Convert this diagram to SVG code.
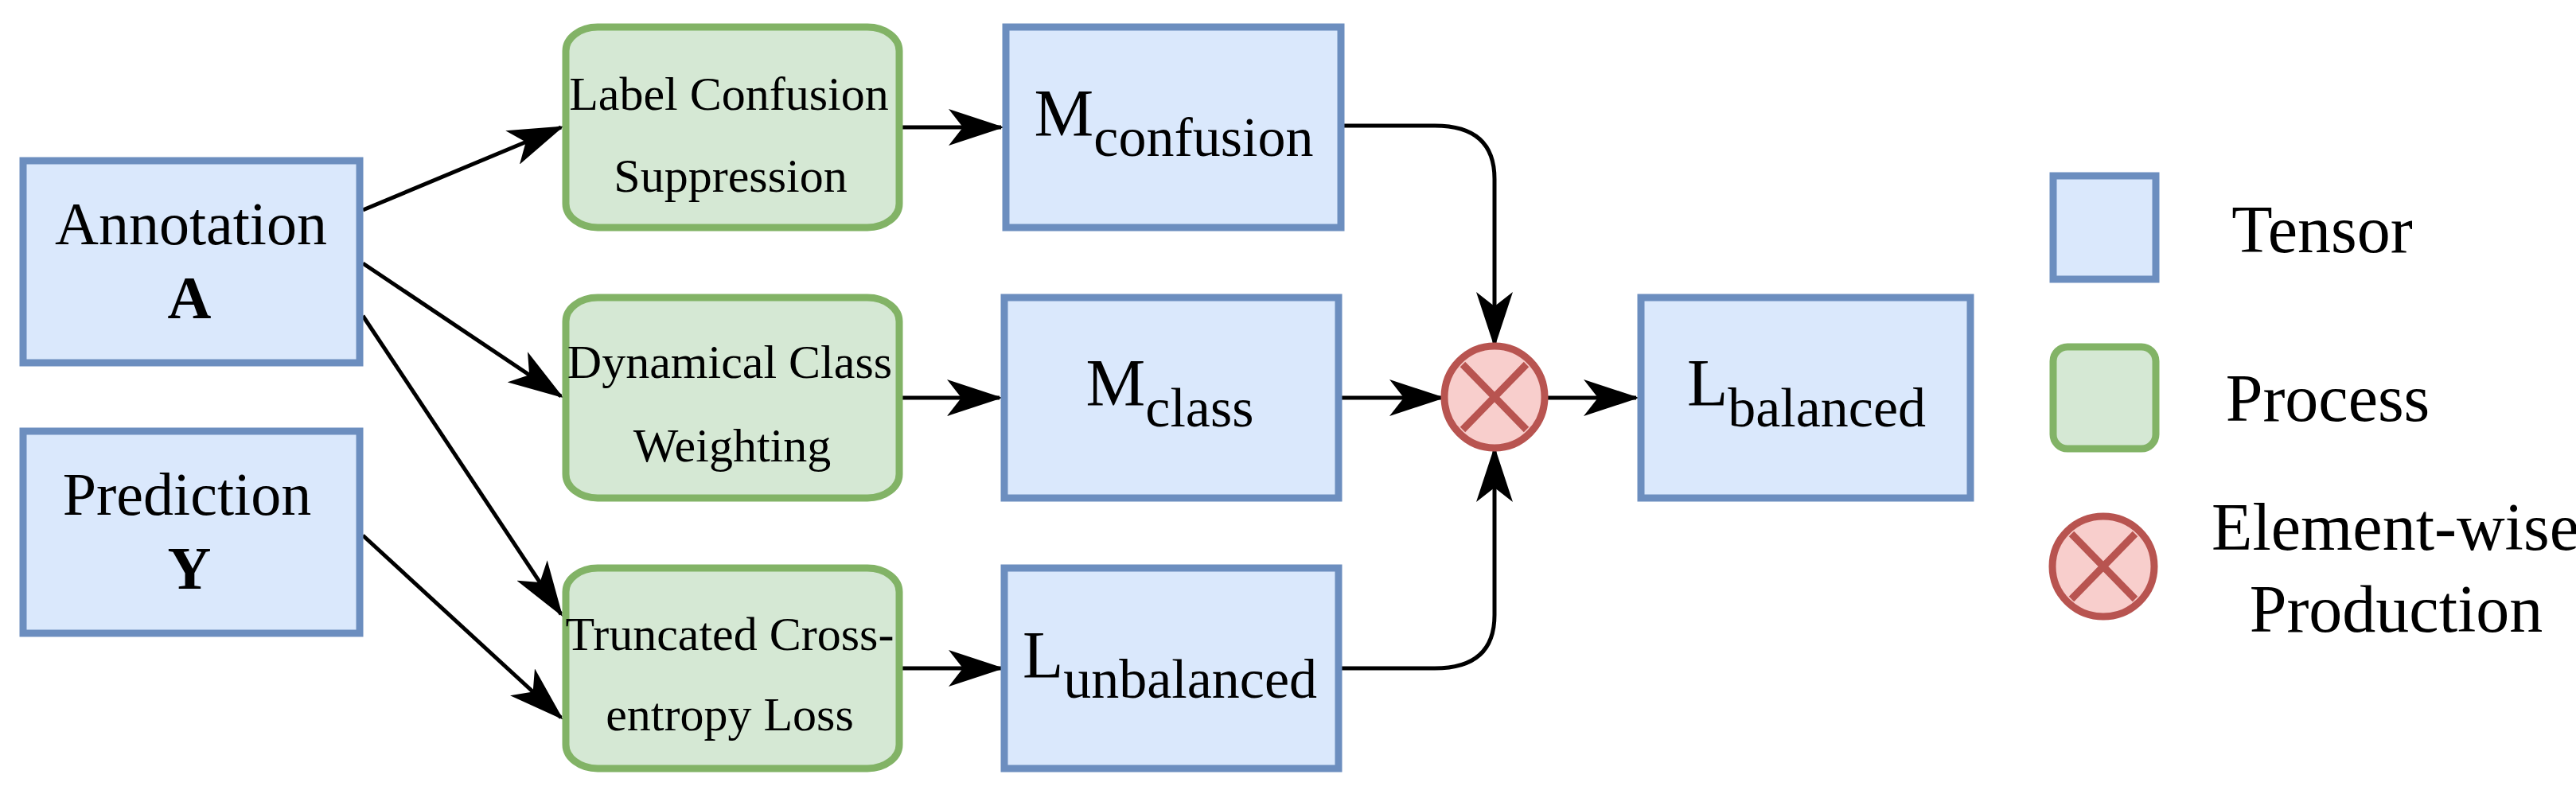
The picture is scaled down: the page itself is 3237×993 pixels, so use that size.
<svg xmlns="http://www.w3.org/2000/svg" width="3237" height="993" viewBox="0 0 3237 993">
<style>
.t{fill:#dae8fc;stroke:#6c8ebf;stroke-width:9}
.p{fill:#d5e8d4;stroke:#82b366;stroke-width:9}
.o{fill:#f8cecc;stroke:#b85450;stroke-width:9}
.x{stroke:#b85450;stroke-width:9}
text{font-family:"Liberation Serif","Times New Roman",serif;fill:#000;text-anchor:middle}
.e{fill:none;stroke:#000;stroke-width:5}
</style>
<defs>
<marker id="a" markerUnits="userSpaceOnUse" markerWidth="70" markerHeight="46" refX="66" refY="23" orient="auto" viewBox="0 0 70 46">
<path d="M0,0 L70,23 L0,46 L18,23 Z" fill="#000"/>
</marker>
</defs>
<g id="connectors">
<path class="e" marker-end="url(#a)" d="M456,264 L705,160"/>
<path class="e" marker-end="url(#a)" d="M456,331 L705,498"/>
<path class="e" marker-end="url(#a)" d="M456,397 L705,772"/>
<path class="e" marker-end="url(#a)" d="M456,673 L705,902"/>
<path class="e" marker-end="url(#a)" d="M1134,160 L1258,160"/>
<path class="e" marker-end="url(#a)" d="M1134,500 L1256,500"/>
<path class="e" marker-end="url(#a)" d="M1134,840 L1258,840"/>
<path class="e" marker-end="url(#a)" d="M1689,158 L1803,158 Q1878,158 1878,225 L1878,433"/>
<path class="e" marker-end="url(#a)" d="M1686,500 L1812,500"/>
<path class="e" marker-end="url(#a)" d="M1686,840 L1803,840 Q1878,840 1878,773 L1878,565"/>
<path class="e" marker-end="url(#a)" d="M1943,500 L2056,500"/>
</g>
<g id="annotation"><rect class="t" x="29" y="202" width="423" height="254"/>
<text x="240" y="307" font-size="76">Annotation</text>
<text x="238" y="400" font-size="76" font-weight="bold">A</text></g>
<g id="prediction"><rect class="t" x="29" y="542" width="423" height="254"/>
<text x="235" y="647" font-size="76">Prediction</text>
<text x="238" y="740" font-size="76" font-weight="bold">Y</text></g>
<g id="lcs"><rect class="p" x="711" y="34" width="419" height="252" rx="40" ry="30"/>
<text x="916" y="138" font-size="60">Label Confusion</text>
<text x="918" y="241" font-size="60">Suppression</text></g>
<g id="dcw"><rect class="p" x="711" y="374" width="419" height="252" rx="40" ry="30"/>
<text x="917" y="475" font-size="60">Dynamical Class</text>
<text x="920" y="580" font-size="60">Weighting</text></g>
<g id="tce"><rect class="p" x="711" y="714" width="419" height="252" rx="40" ry="30"/>
<text x="917" y="817" font-size="60">Truncated Cross-</text>
<text x="917" y="918" font-size="60">entropy Loss</text></g>
<g id="mconfusion"><rect class="t" x="1264" y="34" width="421" height="252"/>
<text x="1475" y="171" font-size="84">M<tspan font-size="70" dy="25">confusion</tspan></text></g>
<g id="mclass"><rect class="t" x="1262" y="374" width="420" height="252"/>
<text x="1470" y="510" font-size="84">M<tspan font-size="70" dy="26">class</tspan></text></g>
<g id="lunbalanced"><rect class="t" x="1262" y="714" width="420" height="252"/>
<text x="1470" y="852" font-size="84">L<tspan font-size="70" dy="25">unbalanced</tspan></text></g>
<g id="mult"><ellipse class="o" cx="1878" cy="499" rx="63" ry="64"/>
<path class="x" d="M1838,458 L1918,540 M1918,458 L1838,540"/></g>
<g id="lbalanced"><rect class="t" x="2062" y="374" width="414" height="252"/>
<text x="2270" y="510" font-size="84">L<tspan font-size="70" dy="26">balanced</tspan></text></g>
<g id="legend">
<rect class="t" x="2580" y="221" width="129" height="130"/>
<text x="2918" y="317" font-size="84">Tensor</text>
<rect class="p" x="2580" y="436" width="129" height="128" rx="18"/>
<text x="2925" y="529" font-size="84">Process</text>
<ellipse class="o" cx="2643" cy="712" rx="64" ry="63"/>
<path class="x" d="M2603,671 L2683,753 M2683,671 L2603,753"/>
<text x="3010" y="691" font-size="84">Element-wise</text>
<text x="3011" y="794" font-size="84">Production</text>
</g>
</svg>
